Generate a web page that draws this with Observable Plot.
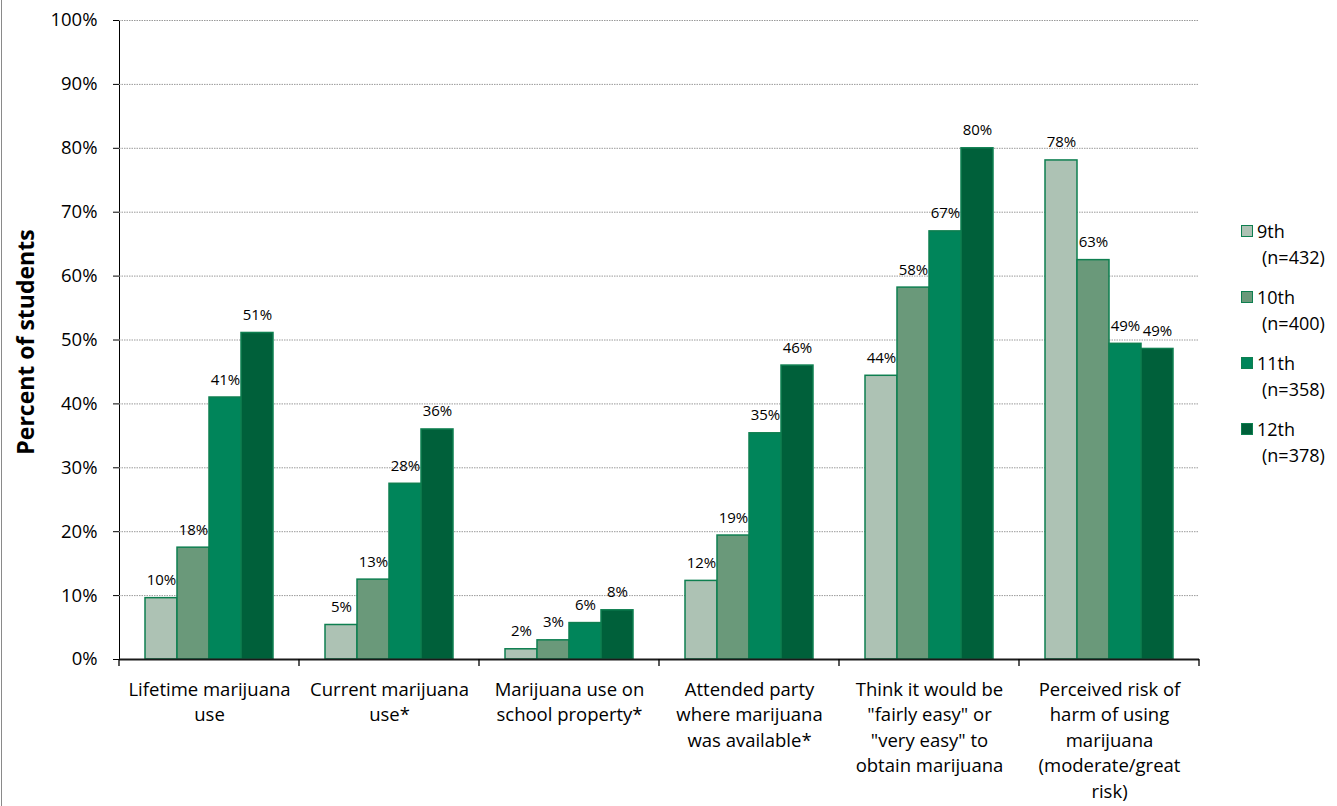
<!DOCTYPE html>
<html>
<head>
<meta charset="utf-8">
<script src="https://cdn.jsdelivr.net/npm/d3@7"></script>
<script src="https://cdn.jsdelivr.net/npm/@observablehq/plot@0.6"></script>
<style>
  html, body { margin: 0; padding: 0; background: #fff; }
  #wrap { position: relative; width: 1337px; height: 806px; overflow: hidden; font-family: "Open Sans", Lato, sans-serif; }
  #border { position: absolute; left: 1px; top: 0; width: 1px; height: 806px; background: #8a8a8a; }
  #ytitle { position: absolute; left: 25px; top: 342px; transform: translate(-50%, -50%) rotate(-90deg); font-weight: bold; font-size: 23px; white-space: nowrap; color: #000; }
  .lg { position: absolute; left: 1241px; font-size: 18px; line-height: 26px; color: #000; }
  .lg .sw { position: absolute; left: 0; top: 7px; width: 10px; height: 10px; border: 1px solid #0e7f50; }
  .lg .t1 { position: absolute; left: 16px; top: 0; white-space: nowrap; }
  .lg .t2 { position: absolute; left: 21px; top: 26px; white-space: nowrap; }
</style>
</head>
<body>
<div id="wrap">
  <div id="border"></div>
  <div id="ytitle">Percent of students</div>
</div>
<script>
const categories = ["lifetime", "current", "school", "party", "easy", "risk"];
const categoryLabels = [
  "Lifetime marijuana\nuse",
  "Current marijuana\nuse*",
  "Marijuana use on\nschool property*",
  "Attended party\nwhere marijuana\nwas available*",
  "Think it would be\n\"fairly easy\" or\n\"very easy\" to\nobtain marijuana",
  "Perceived risk of\nharm of using\nmarijuana\n(moderate/great\nrisk)"
];
const grades = ["9th", "10th", "11th", "12th"];
const gradeN = ["(n=432)", "(n=400)", "(n=358)", "(n=378)"];
const gradeColors = ["#adc2b4", "#6a997a", "#00855a", "#00603a"];
const v9th  = [9.6, 5.4, 1.6, 12.3, 44.4, 78.1];
const v10th = [17.5, 12.5, 3.0, 19.4, 58.2, 62.5];
const v11th = [41.0, 27.5, 5.7, 35.4, 67.0, 49.4];
const v12th = [51.1, 36.0, 7.7, 46.0, 80.0, 48.6];
const yTickValues = [0, 10, 20, 30, 40, 50, 60, 70, 80, 90, 100];

const series = [v9th, v10th, v11th, v12th];
const data = categories.flatMap((c, i) => grades.map((g, j) => ({cat: c, grade: g, value: series[j][i]})));
const catData = categories.map((c, i) => ({cat: c, label: categoryLabels[i]}));

const chart = Plot.plot({
  width: 1337,
  height: 806,
  marginLeft: 117,
  marginRight: 136,
  marginTop: 20,
  marginBottom: 147,
  style: {fontFamily: "'Open Sans', Lato, sans-serif", fontSize: "18.5px", color: "#000", background: "transparent", overflow: "visible"},
  fx: {domain: categories, padding: 0, axis: null, label: null},
  x: {domain: grades, paddingInner: 0, paddingOuter: 0.74, axis: null},
  y: {domain: [0, 100], ticks: 10, tickFormat: d => d + "%", line: true, tickSize: 6, tickPadding: 16, label: null},
  color: {domain: grades, range: gradeColors},
  marks: [
    Plot.ruleY(yTickValues.filter(d => d > 0), {stroke: "#9a9a9a", strokeWidth: 1, strokeDasharray: "1.5,1"}),
    Plot.barY(data, {fx: "cat", x: "grade", y: "value", fill: "grade", stroke: "#0e7f50", strokeWidth: 1.5}),
    Plot.ruleY([0], {stroke: "#1a1a1a", strokeWidth: 2}),
    Plot.text(data, {fx: "cat", x: "grade", y: "value", text: d => Math.round(d.value) + "%", lineAnchor: "bottom", dy: -13, fontSize: 15, fill: "#000"}),
    Plot.text(catData, {fx: "cat", text: "label", frameAnchor: "bottom", lineAnchor: "top", dy: 18, lineHeight: 1.38, fontSize: 18.5, fill: "#000"})
  ]
});

document.getElementById("wrap").prepend(chart);
chart.style.position = "absolute";
chart.style.left = "0";
chart.style.top = "0";

// category separator ticks below the axis, positioned through the fx and y scales
const fxS = chart.scale("fx");
const yS = chart.scale("y");
const bounds = categories.map(c => fxS.apply(c));
bounds.push(fxS.apply(categories[categories.length - 1]) + fxS.bandwidth);
const y0 = yS.apply(0);
d3.select(chart).append("g")
  .selectAll("line").data(bounds).join("line")
  .attr("x1", d => d).attr("x2", d => d)
  .attr("y1", y0).attr("y2", y0 + 7)
  .attr("stroke", "#000").attr("stroke-width", 1.3);

// legend
const wrap = document.getElementById("wrap");
grades.forEach((g, i) => {
  const e = document.createElement("div");
  e.className = "lg";
  e.style.top = (218 + i * 66) + "px";
  e.innerHTML = `<div class="sw" style="background:${gradeColors[i]}"></div><div class="t1">${g}</div><div class="t2">${gradeN[i]}</div>`;
  wrap.appendChild(e);
});
</script>
</body>
</html>
